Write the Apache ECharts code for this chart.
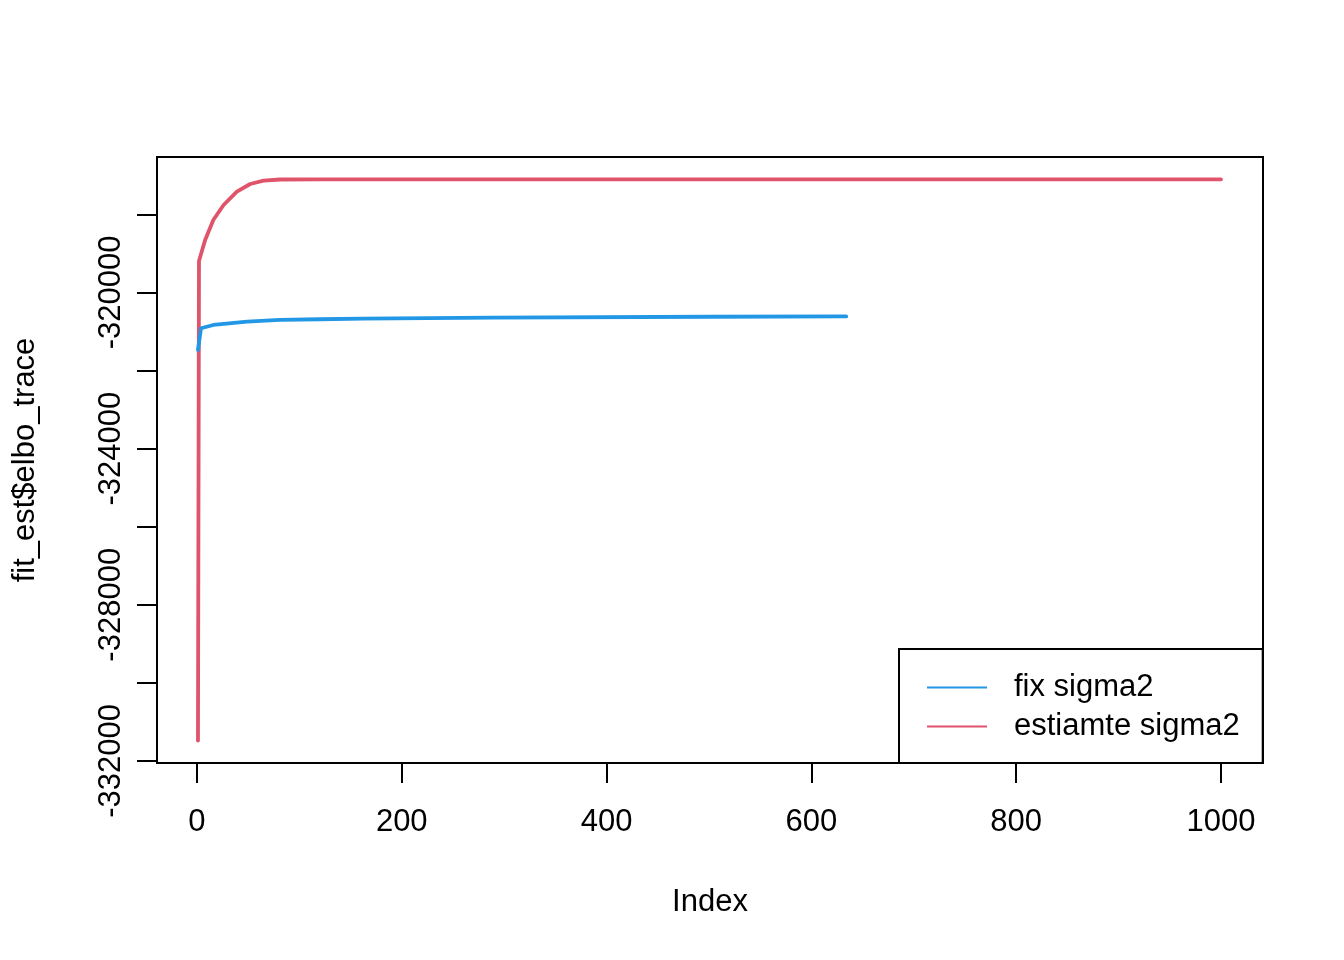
<!DOCTYPE html>
<html>
<head>
<meta charset="utf-8">
<script src="https://cdn.jsdelivr.net/npm/echarts@6/dist/echarts.min.js"></script>
<style>
html,body{margin:0;padding:0;background:#fff;}
#chart{width:1344px;height:960px;}
</style>
</head>
<body>
<div id="chart"></div>
<script>
// ---- data ----
var fixIndex = [1, 4, 16, 49, 81, 120, 162, 289, 501, 634];
var fixElbo  = [-321474, -320918, -320834, -320749, -320706, -320688, -320673, -320647, -320624, -320616];

var estIndex = [1, 2, 8, 16, 26, 39, 52, 65, 81, 120, 300, 600, 1000];
var estElbo  = [-331478, -319196, -318658, -318146, -317762, -317421, -317224, -317139, -317108, -317106, -317105, -317104, -317103];

var xTicks = [0, 200, 400, 600, 800, 1000];
var yTicks = [-332000, -330000, -328000, -326000, -324000, -322000, -320000, -318000];
var yLabels = [-332000, -328000, -324000, -320000];

var seriesNames = ['fix sigma2', 'estiamte sigma2'];

function pairs(xs, ys){ var o=[]; for (var i=0;i<xs.length;i++) o.push([xs[i], ys[i]]); return o; }
function plain(v){ return String(v); }

var FONT = 'Liberation Sans';
var FS = 31;
var chart = echarts.init(document.getElementById('chart'), null, {renderer:'canvas'});
chart.setOption({
  animation: false,
  backgroundColor: '#ffffff',
  textStyle: {fontFamily: FONT, color: '#000'},
  grid: {left: 157, right: 81, top: 157, bottom: 197, show: true, borderColor: '#000', borderWidth: 2, containLabel: false},
  xAxis: {
    type: 'value', min: -39, max: 1041,
    name: 'Index', nameLocation: 'middle', nameGap: 124,
    nameTextStyle: {fontSize: FS, fontFamily: FONT, color: '#000'},
    axisLine: {show: false, onZero: false},
    axisTick: {show: true, inside: false, length: 20, lineStyle: {color: '#000', width: 2}, customValues: xTicks},
    axisLabel: {fontSize: FS, fontFamily: FONT, color: '#000', margin: 44, customValues: xTicks, formatter: plain},
    splitLine: {show: false}
  },
  yAxis: {
    type: 'value', min: -332053, max: -316532,
    name: 'fit_est$elbo_trace', nameLocation: 'middle', nameGap: 116,
    nameTextStyle: {fontSize: FS, fontFamily: FONT, color: '#000'},
    axisLine: {show: false, onZero: false},
    axisTick: {show: true, inside: false, length: 20, lineStyle: {color: '#000', width: 2}, customValues: yTicks},
    axisLabel: {fontSize: FS, fontFamily: FONT, color: '#000', margin: 30, rotate: 90, customValues: yLabels, formatter: plain},
    splitLine: {show: false}
  },
  legend: {
    orient: 'vertical', left: 899, top: 649,
    data: seriesNames,
    icon: 'rect',
    borderColor: '#000', borderWidth: 2, borderRadius: 0,
    padding: [23, 23, 21, 28],
    itemWidth: 60, itemHeight: 2, itemGap: 8,
    textStyle: {fontSize: FS, fontFamily: FONT, color: '#000', lineHeight: 30, padding: [0, 0, 0, 22]},
    backgroundColor: '#fff'
  },
  series: [
    {name: seriesNames[0], type: 'line', data: pairs(fixIndex, fixElbo), showSymbol: false, symbol: 'none',
     lineStyle: {color: '#2297E6', width: 3.8, cap: 'round', join: 'round'}, itemStyle: {color: '#2297E6'}, z: 3},
    {name: seriesNames[1], type: 'line', data: pairs(estIndex, estElbo), showSymbol: false, symbol: 'none',
     lineStyle: {color: '#DF536B', width: 3.8, cap: 'round', join: 'round'}, itemStyle: {color: '#DF536B'}, z: 2}
  ]
});
</script>
</body>
</html>
